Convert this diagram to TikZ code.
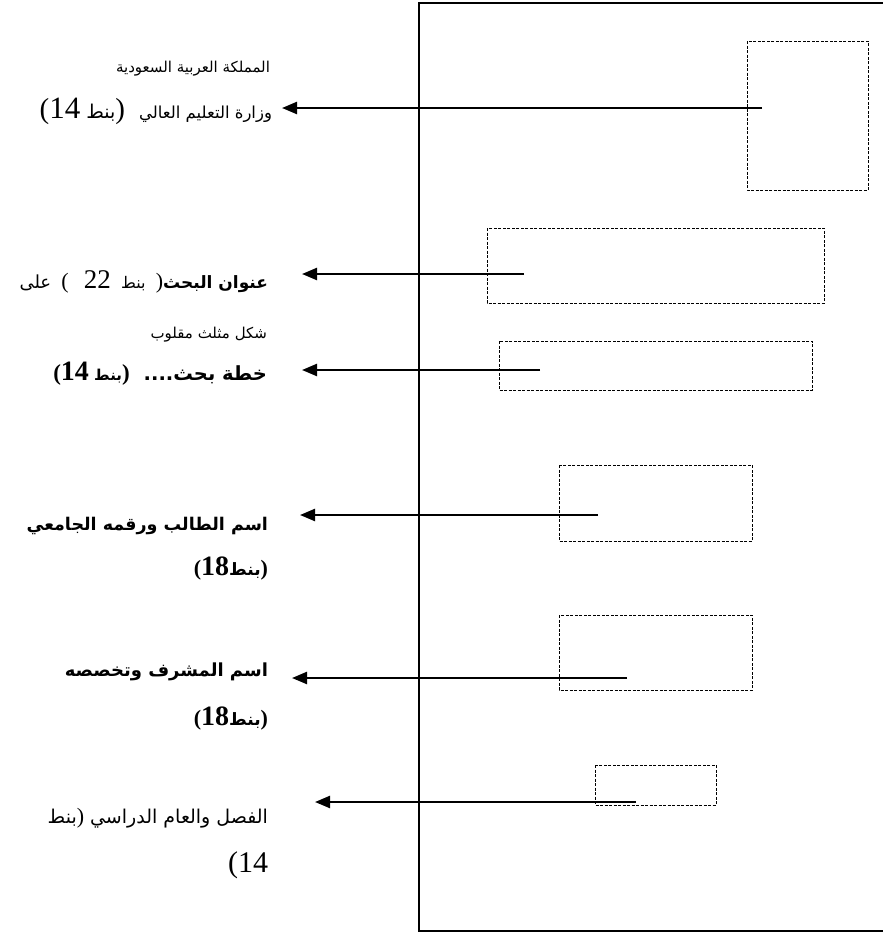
\documentclass[tikz,border=0pt]{standalone}
\usepackage{fontspec}
\usetikzlibrary{arrows.meta}
\TeXXeTstate=1
\newfontfamily\arabicfont[Script=Arabic]{DejaVu Sans}
\newfontfamily\numfont{Liberation Serif}
\newcommand{\ar}[1]{{\arabicfont\beginR #1\endR}}
\newcommand{\nm}[2]{\beginL{\numfont\fontsize{#1}{#1}\selectfont #2}\endL}
\newcommand{\pr}[2]{{\numfont\fontsize{#1}{#1}\selectfont #2}}
\newcommand{\fs}[1]{\fontsize{#1}{#1}\selectfont}
\begin{document}
\begin{tikzpicture}[x=1pt,y=-1pt,
  lbl/.style={anchor=base east,inner sep=0pt,outer sep=0pt},
  dbox/.style={draw,line width=0.8pt,dash pattern=on 3pt off 1.5pt,inner sep=0pt,outer sep=0pt},
  arr/.style={line width=2.3pt,-{Triangle[length=15pt,width=12pt]}},
  frame/.style={line width=2pt}]
\useasboundingbox (0,0) rectangle (883,932);
% page frame
\draw[frame] (890,3) -- (419,3) -- (419,931) -- (890,931);
% dashed boxes
\draw[dbox] (747,41) rectangle (868,190);
\draw[dbox] (487,228) rectangle (824,303);
\draw[dbox] (499,341) rectangle (812,390);
\draw[dbox] (559,465) rectangle (752,541);
\draw[dbox] (559,615) rectangle (752,690);
\draw[dbox] (595,765) rectangle (716,805);
% labels
\node[lbl] (a1) at (270,72) {\ar{\fs{15}المملكة العربية السعودية}};
\node[lbl] (a2) at (272,118) {\ar{\fs{16.5}وزارة التعليم العالي\hspace{14pt}\pr{29}{)}\fs{19}بنط \nm{31}{14}\pr{29}{(}}};
\node[lbl] (b1) at (268,288) {\ar{\fs{17}\bfseries عنوان البحث\mdseries\pr{22}{)}\fs{16}\ \ بنط \ \nm{27}{22} \ \ \pr{22}{(}\ \ \fs{18}على}};
\node[lbl] (b2) at (267,338) {\ar{\fs{15}شكل مثلث مقلوب}};
\node[lbl] (b3) at (267,380) {\ar{\bfseries\fs{19.5}خطة بحث....\hspace{14pt}\pr{23}{)}\fs{15}بنط \nm{28}{14}\pr{23}{(}}};
\node[lbl] (c1) at (268,530) {\ar{\bfseries\fs{17.5}اسم الطالب ورقمه الجامعي}};
\node[lbl] (c2) at (268,575) {\ar{\bfseries\pr{22}{)}\fs{17}بنط\nm{28}{18}\pr{22}{(}}};
\node[lbl] (d1) at (268,676) {\ar{\bfseries\fs{18}اسم المشرف وتخصصه}};
\node[lbl] (d2) at (268,725) {\ar{\bfseries\pr{22}{)}\fs{17}بنط\nm{28}{18}\pr{22}{(}}};
\node[lbl] (e1) at (268,823) {\ar{\fs{19}الفصل والعام الدراسي \pr{22}{)}\fs{19}بنط}};
\node[lbl] (e2) at (268,872) {\ar{\nm{30}{14}\pr{30}{(}}};
% arrow endpoints
\coordinate (s1) at (762,108); \coordinate (t1) at (282,108);
\coordinate (s2) at (524,274); \coordinate (t2) at (302,274);
\coordinate (s3) at (540,370); \coordinate (t3) at (302,370);
\coordinate (s4) at (598,515); \coordinate (t4) at (300,515);
\coordinate (s5) at (627,678); \coordinate (t5) at (292,678);
\coordinate (s6) at (636,802); \coordinate (t6) at (315,802);
\foreach \i in {1,...,6} \draw[arr] (s\i) -- (t\i);
\end{tikzpicture}
\end{document}
